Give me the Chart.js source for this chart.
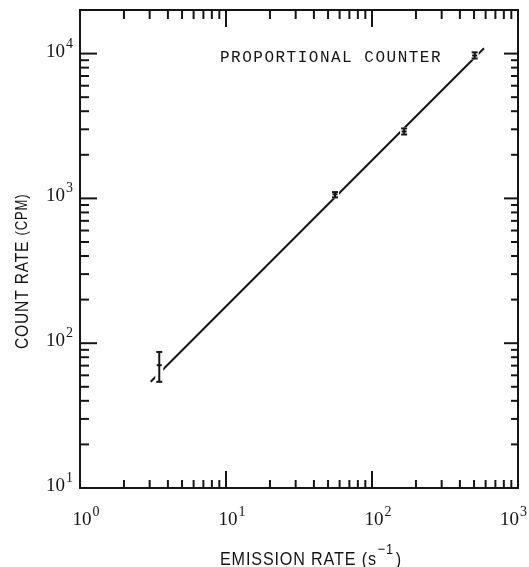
<!DOCTYPE html>
<html>
<head>
<meta charset="utf-8">
<script src="https://cdn.jsdelivr.net/npm/chart.js@4.4.1/dist/chart.umd.min.js"></script>
<style>
  html, body { margin: 0; padding: 0; background: #fff; }
  #wrap { width: 529px; height: 567px; }
</style>
</head>
<body>
<div id="wrap"><canvas id="chart" width="529" height="567"></canvas></div>
<script>
// measured points (emission rate s^-1, count rate cpm) with error bar ends
var emission = [3.49, 55.8, 166, 505];
var countRate = [70.5, 1067, 2897, 9700];
var errLow = [54.1, 1016, 2762, 9250];
var errHigh = [87, 1105, 3041, 10200];

// fitted straight line, end points
var fitEmission = [3.05, 585];
var fitCount = [54.1, 10890];

// axes: decades, labels are the exponents of 10
var xDecades = [1, 10, 100, 1000];
var xExponents = ['0', '1', '2', '3'];
var yDecades = [10, 100, 1000, 10000];
var yExponents = ['1', '2', '3', '4'];
var minorSteps = [2, 3, 4, 5, 6, 7, 8, 9];

var noteText = 'PROPORTIONAL COUNTER';
var xTitle = ['EMISSION RATE (s', '\u22121', ')'];
var yTitle = ['COUNT RATE ', '(CPM)'];

var ink = '#151515';

// everything drawn in ink: frame, inward ticks, error bars, labels
var inkPlugin = {
    id: 'ink',
    afterDatasetsDraw: function(chart) {
        var ctx = chart.ctx, a = chart.chartArea;
        var xs = chart.scales.x, ys = chart.scales.y;
        ctx.save();
        ctx.strokeStyle = ink;
        ctx.fillStyle = ink;
        ctx.lineWidth = 2;
        ctx.lineCap = 'butt';
        function seg(x1, y1, x2, y2) { ctx.beginPath(); ctx.moveTo(x1, y1); ctx.lineTo(x2, y2); ctx.stroke(); }

        ctx.strokeRect(a.left, a.top, a.right - a.left, a.bottom - a.top);

        xDecades.forEach(function(v, i) {
            var p = xs.getPixelForValue(v);
            seg(p, a.bottom, p, a.bottom - 17);
            seg(p, a.top, p, a.top + 17);
            if (i < xDecades.length - 1) minorSteps.forEach(function(m) {
                var q = xs.getPixelForValue(v * m);
                seg(q, a.bottom, q, a.bottom - 8);
                seg(q, a.top, q, a.top + 9);
            });
        });
        yDecades.forEach(function(v, i) {
            var p = ys.getPixelForValue(v);
            seg(a.left, p, a.left + 17, p);
            seg(a.right, p, a.right - 14, p);
            if (i < yDecades.length - 1) minorSteps.forEach(function(m) {
                var q = ys.getPixelForValue(v * m);
                seg(a.left, q, a.left + 9, q);
                seg(a.right, q, a.right - 7, q);
            });
        });

        // error bars, with a white knock-out so the fit line breaks round them
        emission.forEach(function(v, i) {
            var px = xs.getPixelForValue(v);
            var hi = ys.getPixelForValue(errHigh[i]);
            var lo = ys.getPixelForValue(errLow[i]);
            var mid = ys.getPixelForValue(countRate[i]);
            ctx.fillStyle = '#fff';
            ctx.fillRect(px - 4, hi - 1, 8, lo - hi + 2);
            ctx.fillStyle = ink;
            ctx.lineWidth = 2;
            seg(px, hi, px, lo);
            seg(px - 3, hi, px + 3, hi);
            seg(px - 3, lo, px + 3, lo);
            seg(px - 2.5, mid, px + 2.5, mid);
        });

        // tick labels 10^n; the last one is pulled in so it stays on the page
        ctx.textBaseline = 'alphabetic';
        ctx.textAlign = 'left';
        xDecades.forEach(function(v, i) {
            var p = xs.getPixelForValue(v);
            ctx.font = '19px "Liberation Serif"';
            var w = ctx.measureText('10').width;
            ctx.font = '14px "Liberation Serif"';
            var we = ctx.measureText(xExponents[i]).width;
            var left = Math.min(p - w / 2 + 2, chart.width - 2 - w - we - 1);
            ctx.font = '19px "Liberation Serif"';
            ctx.fillText('10', left, a.bottom + 37);
            ctx.font = '14px "Liberation Serif"';
            ctx.fillText(xExponents[i], left + w + 1, a.bottom + 28);
        });
        yDecades.forEach(function(v, i) {
            var p = ys.getPixelForValue(v);
            ctx.font = '14px "Liberation Serif"';
            var we = ctx.measureText(yExponents[i]).width;
            ctx.textAlign = 'right';
            ctx.fillText(yExponents[i], a.left - 7, p - 6);
            ctx.font = '19px "Liberation Serif"';
            ctx.fillText('10', a.left - 7 - we - 1, p + 3);
        });

        // note inside the frame
        ctx.textAlign = 'left';
        ctx.font = '16px "Liberation Mono"';
        ctx.letterSpacing = '1.5px';
        ctx.fillText(noteText, 220, a.top + 52);
        ctx.letterSpacing = '0px';

        // x title with superscript
        ctx.save();
        ctx.translate(220, a.bottom + 77);
        ctx.scale(0.85, 1);
        ctx.font = '19px "Liberation Sans"';
        ctx.letterSpacing = '1px';
        ctx.fillText(xTitle[0], 0, 0);
        var x1 = ctx.measureText(xTitle[0]).width;
        ctx.font = '15px "Liberation Sans"';
        ctx.fillText(xTitle[1], x1 + 1, -11);
        var x2 = x1 + 1 + ctx.measureText(xTitle[1]).width + 2;
        ctx.font = '19px "Liberation Sans"';
        ctx.fillText(xTitle[2], x2, 0);
        ctx.restore();

        // y title, rotated
        ctx.save();
        ctx.translate(28, 349);
        ctx.rotate(-Math.PI / 2);
        ctx.scale(0.82, 1);
        ctx.font = '19px "Liberation Sans"';
        ctx.letterSpacing = '1px';
        ctx.fillText(yTitle[0], 0, 0);
        var y1 = ctx.measureText(yTitle[0]).width;
        ctx.font = '16px "Liberation Sans"';
        ctx.fillText(yTitle[1], y1, -1);
        ctx.restore();

        ctx.restore();
    }
};

function makeChart() {
    new Chart(document.getElementById('chart'), {
        type: 'scatter',
        data: {
            datasets: [{
                data: fitEmission.map(function(v, i) { return { x: v, y: fitCount[i] }; }),
                showLine: true, borderColor: ink, borderWidth: 2, pointRadius: 0, fill: false
            }, {
                data: emission.map(function(v, i) { return { x: v, y: countRate[i] }; }),
                pointRadius: 0, showLine: false
            }]
        },
        options: {
            responsive: false, animation: false,
            layout: { padding: { left: 80, right: 11, top: 10, bottom: 79 } },
            plugins: { legend: { display: false }, tooltip: { enabled: false } },
            scales: {
                x: { type: 'logarithmic', min: 1, max: 1000, display: false },
                y: { type: 'logarithmic', min: 10, max: 20000, display: false }
            }
        },
        plugins: [inkPlugin]
    });
}

Promise.all([
    document.fonts.load('19px "Liberation Serif"'),
    document.fonts.load('16px "Liberation Mono"'),
    document.fonts.load('19px "Liberation Sans"')
]).then(makeChart, makeChart);
</script>
</body>
</html>
